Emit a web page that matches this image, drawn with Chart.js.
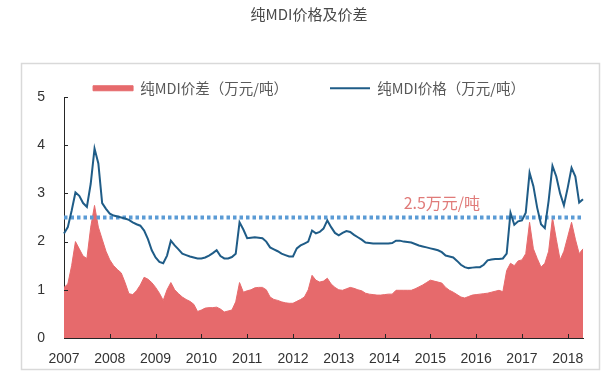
<!DOCTYPE html>
<html lang="zh">
<head>
<meta charset="utf-8">
<title>纯MDI价格及价差</title>
<script src="https://cdn.jsdelivr.net/npm/chart.js@4.4.1/dist/chart.umd.min.js"></script>
<style>
  html, body { margin: 0; padding: 0; background: #fff; }
  #wrap { width: 611px; height: 375px; }
</style>
</head>
<body>
<div id="wrap"><canvas id="mdiChart" width="611" height="375"></canvas></div>
<script>
// year tick labels and y ticks
const yearLabels = ['2007','2008','2009','2010','2011','2012','2013','2014','2015','2016','2017','2018'];
const yTicks = [0, 1, 2, 3, 4, 5];
const lastMonth = '2018-05';

// 纯MDI价差 (万元/吨), monthly, Jan 2007 .. May 2018
const spread = [
  1.05, 1.12, 1.50, 2.00, 1.85, 1.70, 1.65, 2.30, 2.75, 2.30, 2.05, 1.80,
  1.62, 1.50, 1.42, 1.35, 1.15, 0.92, 0.90, 0.98, 1.10, 1.26, 1.22, 1.15,
  1.05, 0.93, 0.78, 1.00, 1.15, 1.00, 0.92, 0.85, 0.80, 0.76, 0.70, 0.55,
  0.58, 0.62, 0.63, 0.63, 0.64, 0.60, 0.54, 0.56, 0.58, 0.75, 1.15, 0.95,
  0.98, 1.00, 1.04, 1.05, 1.05, 1.00, 0.85, 0.80, 0.78, 0.75, 0.73, 0.72,
  0.72, 0.76, 0.80, 0.85, 1.00, 1.30, 1.20, 1.16, 1.18, 1.24, 1.12, 1.05,
  1.00, 0.99, 1.02, 1.05, 1.03, 1.00, 0.98, 0.93, 0.91, 0.90, 0.89, 0.89,
  0.90, 0.91, 0.91, 0.99, 0.99, 0.99, 0.99, 0.99, 1.02, 1.06, 1.10, 1.15,
  1.20, 1.18, 1.16, 1.14, 1.05, 0.99, 0.95, 0.90, 0.85, 0.83, 0.86, 0.89,
  0.90, 0.91, 0.92, 0.93, 0.95, 0.97, 0.99, 0.96, 1.40, 1.55, 1.50, 1.60,
  1.62, 1.75, 2.40, 1.85, 1.65, 1.47, 1.55, 1.80, 2.50, 2.05, 1.62, 1.80,
  2.10, 2.40, 2.05, 1.75, 1.85
];

// 纯MDI价格 (万元/吨)
const price = [
  2.17, 2.30, 2.64, 3.02, 2.95, 2.80, 2.72, 3.20, 3.93, 3.62, 2.80, 2.68,
  2.58, 2.54, 2.52, 2.50, 2.48, 2.45, 2.40, 2.36, 2.33, 2.23, 2.05, 1.82,
  1.67, 1.58, 1.55, 1.71, 2.02, 1.92, 1.84, 1.75, 1.72, 1.69, 1.67, 1.65,
  1.65, 1.67, 1.71, 1.76, 1.82, 1.70, 1.65, 1.65, 1.68, 1.75, 2.40, 2.25,
  2.07, 2.08, 2.09, 2.08, 2.07, 2.00, 1.88, 1.84, 1.80, 1.75, 1.72, 1.69,
  1.69, 1.86, 1.92, 1.96, 2.00, 2.23, 2.17, 2.20, 2.27, 2.44, 2.30, 2.18,
  2.13, 2.18, 2.22, 2.20, 2.14, 2.09, 2.04, 1.98, 1.97, 1.96, 1.96, 1.96,
  1.96, 1.96, 1.97, 2.02, 2.02, 2.00, 1.99, 1.98, 1.95, 1.92, 1.90, 1.88,
  1.86, 1.84, 1.82, 1.78, 1.71, 1.69, 1.67, 1.60, 1.52, 1.47, 1.45, 1.46,
  1.47, 1.47, 1.52, 1.61, 1.63, 1.64, 1.64, 1.65, 1.75, 2.60, 2.35, 2.42,
  2.44, 2.60, 3.43, 3.15, 2.70, 2.36, 2.28, 2.85, 3.57, 3.35, 3.00, 2.75,
  3.12, 3.53, 3.35, 2.81, 2.88
];

const threshold = 2.5;
const thresholdLabel = '2.5万元/吨';
const labelMonth = '2014-06';

const months = [];
for (const y of yearLabels) {
  for (let m = 1; m <= 12 && months[months.length - 1] !== lastMonth; m++) {
    months.push(y + '-' + String(m).padStart(2, '0'));
  }
}

const CJK = '"Noto Sans CJK SC", sans-serif';
const LATIN = '"Liberation Sans", Arial, sans-serif';
const RED = '#e66a6c';
const BLUE = '#1f5c87';
const AXIS = '#262626';

const frame = {
  id: 'frame',
  beforeDraw(chart) {
    const { ctx, width, height } = chart;
    ctx.save();
    ctx.fillStyle = '#fff';
    ctx.fillRect(0, 0, width, height);
    ctx.strokeStyle = '#d9d9d9';
    ctx.lineWidth = 1.5;
    ctx.strokeRect(21.5, 63.5, 578, 306);
    ctx.restore();
  }
};

// dotted 2.5 line sits between the area and the price line
const refLine = {
  id: 'refLine',
  afterDatasetDraw(chart, args) {
    if (args.index !== 0) return;
    const { ctx, chartArea, scales: { x, y } } = chart;
    const py = y.getPixelForValue(threshold);
    ctx.save();
    ctx.beginPath();
    ctx.setLineDash([3.5, 3]);
    ctx.lineWidth = 4;
    ctx.strokeStyle = '#5b9bd5';
    ctx.moveTo(chartArea.left, py);
    ctx.lineTo(chartArea.right, py);
    ctx.stroke();
    ctx.setLineDash([]);
    ctx.fillStyle = '#e07b79';
    ctx.font = '16px ' + CJK;
    ctx.textBaseline = 'middle';
    ctx.fillText(thresholdLabel, x.getPixelForValue(months.indexOf(labelMonth)), py - 15);
    ctx.restore();
  }
};

// excel style tick marks pointing into the plot
const innerTicks = {
  id: 'innerTicks',
  afterDraw(chart) {
    const { ctx, chartArea: a, scales: { x, y } } = chart;
    ctx.save();
    ctx.strokeStyle = AXIS;
    ctx.lineWidth = 1;
    ctx.beginPath();
    yearLabels.forEach((_, i) => {
      if (i === 0) return;
      const px = Math.round(x.getPixelForValue(i * 12)) + 0.5;
      ctx.moveTo(px, a.bottom);
      ctx.lineTo(px, a.bottom - 4);
    });
    yTicks.forEach(v => {
      const py = Math.round(y.getPixelForValue(v)) + 0.5;
      ctx.moveTo(a.left, py);
      ctx.lineTo(a.left + 4, py);
    });
    ctx.stroke();
    ctx.restore();
  }
};

new Chart(document.getElementById('mdiChart'), {
  type: 'line',
  data: {
    labels: months,
    datasets: [
      {
        label: '纯MDI价差（万元/吨）',
        data: spread,
        fill: 'origin',
        backgroundColor: RED,
        borderColor: RED,
        borderWidth: 1,
        pointRadius: 0,
        order: 2
      },
      {
        label: '纯MDI价格（万元/吨）',
        data: price,
        fill: false,
        borderColor: BLUE,
        backgroundColor: BLUE,
        borderWidth: 2,
        pointRadius: 0,
        order: 1
      }
    ]
  },
  options: {
    responsive: false,
    animation: false,
    devicePixelRatio: 1,
    layout: { padding: { left: 22, right: 15, top: 0, bottom: 0 } },
    plugins: {
      tooltip: { enabled: false },
      title: {
        display: true,
        text: '纯MDI价格及价差',
        color: '#4a4a4a',
        font: { family: CJK, size: 15, weight: 'normal' },
        padding: { top: 5, bottom: 16 }
      },
      legend: {
        position: 'top',
        maxHeight: 58,
        labels: {
          usePointStyle: true,
          pointStyleWidth: 40,
          boxHeight: 5,
          padding: 42,
          color: '#595959',
          font: { family: CJK, size: 14.5 },
          sort: (a, b) => a.datasetIndex - b.datasetIndex,
          generateLabels(chart) {
            const items = Chart.defaults.plugins.legend.labels.generateLabels(chart);
            items.forEach(it => { it.pointStyle = it.datasetIndex === 0 ? 'rect' : 'line'; });
            return items;
          }
        }
      }
    },
    scales: {
      x: {
        grid: { display: false, drawTicks: false },
        border: { color: AXIS, width: 1 },
        ticks: {
          autoSkip: false,
          maxRotation: 0,
          padding: 13,
          color: '#333',
          font: { family: LATIN, size: 14 },
          callback: (v, i) => (i % 12 === 0 ? yearLabels[i / 12] : '')
        },
        afterFit(s) { s.height = 37; }
      },
      y: {
        min: 0,
        max: 5,
        grid: { display: false, drawTicks: false },
        border: { color: AXIS, width: 1 },
        ticks: {
          stepSize: 1,
          padding: 19,
          color: '#333',
          font: { family: LATIN, size: 14 }
        },
        afterFit(s) { s.width = 42; }
      },
      // empty right gutter so title/legend centre like the original
      gutter: {
        position: 'right',
        grid: { display: false },
        border: { display: false },
        ticks: { display: false },
        afterFit(s) { s.width = 13; }
      }
    }
  },
  plugins: [frame, refLine, innerTicks]
});
</script>
</body>
</html>
